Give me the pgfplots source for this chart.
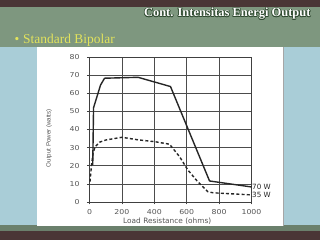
\documentclass[border=0pt]{standalone}
\usepackage{pgfplots}
\pgfplotsset{compat=1.18}
\usepackage{fontspec}
\setmainfont{Liberation Serif}
\newfontfamily\sans{Liberation Sans}
\newfontfamily\wsans{DejaVu Sans}
\definecolor{topbrown}{HTML}{4A3636}
\definecolor{slidegreen}{HTML}{7E977F}
\definecolor{slideblue}{HTML}{A9CDD7}
\definecolor{bulletyellow}{HTML}{E2E35C}
\definecolor{ticktext}{HTML}{555555}
\definecolor{curve}{HTML}{262626}
\definecolor{shadowgreen}{HTML}{2F4A30}
\begin{document}
\begin{tikzpicture}[x=1bp,y=1bp]
\path[use as bounding box] (0,0) rectangle (320,240);
% slide background
\fill[slideblue] (0,15) rectangle (320,193);
\fill[slidegreen] (0,193) rectangle (320,233);
\fill[topbrown] (0,233) rectangle (320,240);
\fill[slidegreen!85!black] (0,9) rectangle (320,15);
\fill[topbrown] (0,0) rectangle (320,9);
% white chart panel
\fill[white] (37,14) rectangle (283,193);
\draw[black!35, line width=0.4bp] (283,14) -- (283,193);
% title with dark outline
\foreach \dx/\dy in {0.7/0,-0.7/0,0/0.7,0/-0.7,0.5/0.5,-0.5/-0.5,0.5/-0.5,-0.5/0.5}{
  \node[anchor=east, text=shadowgreen, font=\bfseries\fontsize{12.5}{14}\selectfont] at (314+\dx,226+\dy) {Cont. Intensitas Energi Output};
}
\node[anchor=east, text=white, font=\bfseries\fontsize{12.5}{14}\selectfont] at (314,226) {Cont. Intensitas Energi Output};
% bullet
\node[anchor=west, text=bulletyellow, font=\fontsize{13.5}{15}\selectfont] at (11,200) {\textbullet\hspace{4bp}Standard Bipolar};
\begin{axis}[
  at={(89.5bp,38bp)}, anchor=south west,
  scale only axis, width=162bp, height=145bp,
  xmin=0, xmax=1000, ymin=0, ymax=80,
  xtick={0,200,...,1000}, ytick={0,10,...,80},
  grid=major, major grid style={black!70, line width=0.6bp},
  axis line style={black!75, line width=0.6bp},
  tick style={black!75, line width=0.6bp},
  tick align=outside, major tick length=2.5bp,
  xtick pos=bottom, ytick pos=left,
  tick label style={font=\wsans\fontsize{6.8}{7}\selectfont, text=ticktext, xscale=1.15},
  /pgf/number format/assume math mode=true,
  /pgf/number format/1000 sep={},
  yticklabel style={xshift=-3bp},
  xticklabel style={yshift=-1bp},
  xlabel={Load Resistance (ohms)},
  xlabel style={font=\wsans\fontsize{7.4}{8}\selectfont, text=ticktext, at={(axis description cs:0.48,-0.13)}, anchor=center},
  ylabel={Output Power (watts)},
  ylabel style={font=\sans\fontsize{6.2}{7}\selectfont, text=ticktext, at={(axis description cs:-0.25,0.44)}, anchor=center},
  clip=false,
]
\addplot[curve, line width=1.4bp] coordinates {
 (20,20.4) (25,52) (68,64.5) (93,68.3) (300,68.8) (500,63.7) (741,11.6) (1000,8.3)};
\addplot[curve, line width=1.4bp, dash pattern=on 3bp off 2.2bp] coordinates {
 (3,11.2) (12,20) (22,27) (35,30.5) (62,33) (100,34.2) (200,35.7) (300,34.3) (401,33.3) (494,31.9)
 (556,25) (607,17.7) (668,11.2) (730,5.7) (761,5.1) (1000,3.9)};
\node[anchor=west, font=\wsans\fontsize{7.2}{8}\selectfont, text=curve, inner sep=0.5bp] at (axis cs:1000,8.3) {70 W};
\node[anchor=west, font=\wsans\fontsize{7.2}{8}\selectfont, text=curve, inner sep=0.5bp] at (axis cs:1000,3.9) {35 W};
\end{axis}
\end{tikzpicture}
\end{document}
